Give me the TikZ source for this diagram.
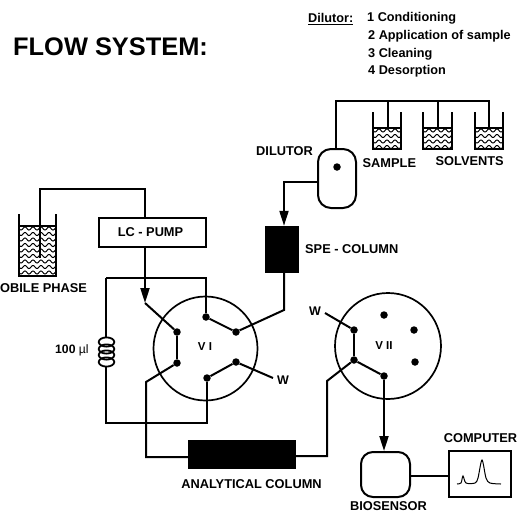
\documentclass[tikz,border=0pt]{standalone}
\usepackage{fontspec}
\setmainfont{Liberation Sans}
\usetikzlibrary{arrows.meta}
\newcommand{\wavefill}[4]{%
  \begin{scope}
    \clip (#1,#2) rectangle (#3,#4);
    \pgfmathsetmacro{\wavestart}{#2+2.5}
    \pgfmathsetmacro{\wavenext}{#2+8}
    \foreach \wy in {\wavestart,\wavenext,...,#4}
      \draw[line width=1pt,domain=#1:#3,samples=50,smooth] plot (\x,{\wy+1.5*sin(45*(\x-#1))});
  \end{scope}}
\newcommand{\beakerwalls}[4]{%
  \draw[wall] (#1,#2) -- (#1,#4) -- (#3,#4) -- (#3,#2);}
\tikzset{
  x=1pt,y=-1pt,
  pipe/.style={line width=2pt,line join=miter},
  arrowpipe/.style={pipe,-{Triangle[length=15pt,width=9pt]}},
  wall/.style={line width=1.3pt},
  liquid/.style={rectangle,inner sep=0pt,line width=1.3pt,draw},
  valve/.style={circle,draw,line width=1.7pt,inner sep=0pt,minimum size=#1},
  port/.style={circle,fill=black,inner sep=0pt,minimum size=7.5pt},
  boxed/.style={rectangle,draw,line width=2pt,inner sep=0pt},
  solid box/.style={rectangle,fill=black,inner sep=0pt},
  lab/.style={inner sep=0pt,font=\bfseries\fontsize{12.8}{14}\selectfont},
  head/.style={inner sep=0pt,anchor=west,font=\bfseries\fontsize{12.7}{14}\selectfont},
  vlab/.style={inner sep=0pt,font=\bfseries\fontsize{11.5}{13}\selectfont},
  wlab/.style={inner sep=0pt,font=\bfseries\fontsize{12.5}{14}\selectfont},
}
\begin{document}
\begin{tikzpicture}
\useasboundingbox (0,0) rectangle (517,512);
% titles
\node[inner sep=0pt,anchor=west,font=\bfseries\fontsize{25.4}{28}\selectfont] (title) at (13,47) {FLOW SYSTEM:};
\node[head,anchor=west] (dil) at (308,19) {\underline{Dilutor:}};
\node[head] (h1) at (367,18) {1 Conditioning};
\node[head] (h2) at (368,36) {2 Application of sample};
\node[head] (h3) at (368,54) {3 Cleaning};
\node[head] (h4) at (368,71) {4 Desorption};

% mobile phase beaker
\node[liquid,minimum width=37pt,minimum height=50pt] (mob) at (37.5,251) {};
\wavefill{19}{226}{56}{276}
\beakerwalls{19}{214}{56}{276}
\coordinate (mobin) at (40,258);
\coordinate (mobtop) at (40,189);
\coordinate (pumptop) at (145,189);
\node[boxed,minimum width=107pt,minimum height=29pt] (pump) at (152.5,232.5) {};
\node[lab] (pumpl) at (150.5,232) {LC - PUMP};
\draw[pipe] (mobin) -- (mobtop) -- (pumptop) -- (pumptop |- pump.north);
\node[lab,anchor=west] (mobl) at (0,288) {OBILE PHASE};

% valve I
\node[valve=104pt] (v1) at (205.5,348.5) {};
\node[vlab] (v1l) at (205,347) {V I};
\node[port] (a1) at (206,317) {};
\node[port] (b1) at (236,332) {};
\node[port] (c1) at (236,362) {};
\node[port] (d1) at (207,378) {};
\node[port] (e1) at (177,363) {};
\node[port] (f1) at (177,332) {};
\coordinate (inlet) at (145,303);
\coordinate (junction) at (145,278);
\coordinate (loopl) at (106,278);
\coordinate (loopr) at (206,278);
\draw[pipe] (pump.south -| inlet) -- (junction);
\draw[arrowpipe] (junction) -- (inlet);
\draw[pipe] (inlet) -- (f1);
\draw[pipe] (f1) -- (e1);
\draw[pipe] (a1) -- (b1);
\draw[pipe] (c1) -- (d1);
\draw[pipe] (loopl) -- (loopr) -- (a1);
% coil
\node[inner sep=0pt,minimum width=18pt,minimum height=30pt] (coil) at (106.5,352) {};
\foreach \cy in {342,349,355,362}
  \draw[line width=1.8pt] (106.5,\cy) ellipse [x radius=7.8,y radius=4.6];
\node[inner sep=0pt,anchor=west,font=\fontsize{12.2}{14}\selectfont] (coill) at (55,350) {\textbf{100} µl};
\coordinate (loopb) at (106,423);
\coordinate (loopc) at (207,423);
\draw[pipe] (loopl) -- (loopl |- coil.north);
\draw[pipe] (coil.south -| loopb) -- (loopb) -- (loopc) -- (d1);
\coordinate (w1e) at (273,378);
\draw[pipe] (c1) -- (w1e);
\node[wlab] (w1) at (283,380) {W};

% SPE column and dilutor
\node[solid box,minimum width=34pt,minimum height=47pt] (spe) at (282,249.5) {};
\node[lab,anchor=west] (spel) at (305,249) {SPE - COLUMN};
\coordinate (spejoin) at (284,310);
\draw[pipe] (b1) -- (spejoin) -- (spejoin |- spe.south);
\node[boxed,rounded corners=13pt,minimum width=38pt,minimum height=59pt] (dilutor) at (337,178.5) {};
\node[port] (ddot) at (337,167) {};
\node[lab,anchor=west] (dill) at (256,151) {DILUTOR};
\coordinate (dilbend) at (284,182);
\draw[arrowpipe] (dilutor.west |- dilbend) -- (dilbend) -- (dilbend |- spe.north);

% solvents
\node[liquid,minimum width=28pt,minimum height=21pt] (s) at (387,138.5) {};
\wavefill{373}{128}{401}{149}
\beakerwalls{373}{112}{401}{149}
\node[liquid,minimum width=29pt,minimum height=21pt] (t) at (437.5,138.5) {};
\wavefill{423}{128}{452}{149}
\beakerwalls{423}{112}{452}{149}
\node[liquid,minimum width=28pt,minimum height=21pt] (u) at (489,138.5) {};
\wavefill{475}{128}{503}{149}
\beakerwalls{475}{112}{503}{149}
\coordinate (topl) at (336,101);
\coordinate (topr) at (488.5,101);
\draw[pipe] (dilutor.north -| topl) -- (topl) -- (topr) -- (topr |- u.north);
\coordinate (topa) at (388,101);
\coordinate (topb) at (438,101);
\draw[pipe] (topa) -- (topa |- s.north);
\draw[pipe] (topb) -- (topb |- t.north);
\node[lab,anchor=west] (sam) at (362.5,163) {SAMPLE};
\node[lab,anchor=west] (sol) at (435.5,161.5) {SOLVENTS};

% analytical column
\node[solid box,minimum width=108pt,minimum height=29pt] (ana) at (242,454.5) {};
\coordinate (e1a) at (146,382);
\coordinate (e1b) at (146,457);
\draw[pipe] (e1) -- (e1a) -- (e1b) -- (ana.west |- e1b);
\node[lab] (anal) at (251.5,484) {ANALYTICAL COLUMN};

% valve II
\node[valve=106pt] (v2) at (388,346) {};
\node[vlab] (v2l) at (384,346) {V II};
\node[port] (a2) at (354,330) {};
\node[port] (b2) at (354,360) {};
\node[port] (c2) at (384,376) {};
\node[port] (d2) at (384,315) {};
\node[port] (e2) at (414,330) {};
\node[port] (f2) at (415,362) {};
\draw[pipe] (a2) -- (b2);
\draw[pipe] (b2) -- (c2);
\coordinate (wv2) at (325,313);
\draw[pipe] (wv2) -- (a2);
\node[wlab] (w2) at (315,311) {W};
\coordinate (anar) at (327,456);
\coordinate (anau) at (327,381);
\draw[pipe] (ana.east |- anar) -- (anar) -- (anau) -- (b2);

% biosensor and computer
\node[boxed,rounded corners=12pt,minimum width=49pt,minimum height=45pt] (bio) at (385.5,474.5) {};
\node[lab] (biol) at (388.5,506) {BIOSENSOR};
\draw[arrowpipe] (c2) -- (c2 |- bio.north);
\node[boxed,minimum width=62pt,minimum height=46pt] (comp) at (480,474) {};
\node[lab] (compl) at (480.5,438) {COMPUTER};
\draw[line width=1.6pt] (bio.east |- 0,476) -- (comp.west |- 0,476);
\draw[line width=1pt] plot[smooth,tension=0.5] coordinates {(457,484) (461,483) (463,476) (466,483) (475,483) (478,478) (482,460) (486,478) (490,483) (501,484)};
\end{tikzpicture}
\end{document}
